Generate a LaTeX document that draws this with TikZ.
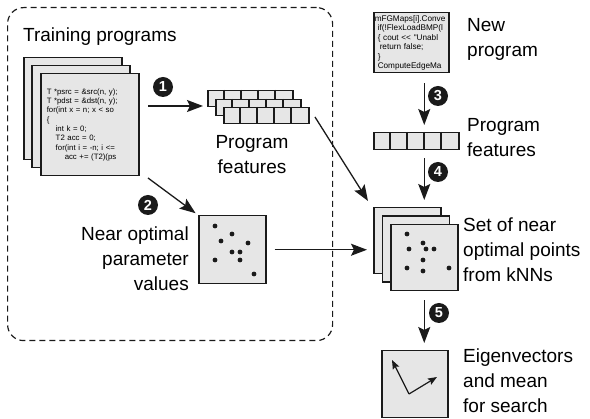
\documentclass[tikz,border=0pt]{standalone}
\usepackage{fontspec}
\setmainfont{Liberation Sans}
\newfontfamily\codefont{Liberation Sans}[Ligatures=TeXOff]
\usetikzlibrary{arrows.meta}
\definecolor{ink}{HTML}{1A1A1A}
\definecolor{paper}{HTML}{E6E6E6}

\begin{document}
\begin{tikzpicture}[x=1pt,y=-1pt,
  sheet/.style={draw=ink, fill=paper, line width=1.5pt, inner sep=0pt, anchor=north west},
  codesheet/.style={sheet, minimum width=98pt, minimum height=102pt},
  setsheet/.style={sheet, minimum width=67pt, minimum height=66pt},
  featrow/.style={sheet, minimum width=85pt, minimum height=16pt},
  divider/.style={draw=ink, line width=1.5pt},
  lbl/.style={inner sep=0pt, font=\fontsize{19}{25}\selectfont},
  badge/.style={circle, fill=ink, text=white, inner sep=0pt, minimum size=20pt,
    font=\bfseries\fontsize{14.5}{14.5}\selectfont},
  arr/.style={draw=ink, line width=1.3pt, -{Stealth[length=16pt,width=12pt,inset=3pt]}},
  smallarr/.style={draw=ink, line width=1.2pt, -{Stealth[length=9pt,width=7pt,inset=1.5pt]}},
  dot/.style={fill=ink},
  frame/.style={draw=ink, line width=1.2pt, dash pattern=on 6pt off 4pt,
    rounded corners=16pt, inner sep=0pt, anchor=north west}
]
\useasboundingbox (0,0) rectangle (590,419);

% training group
\node[frame, minimum width=325pt, minimum height=333pt] (group) at (7,7) {};
\node[lbl, anchor=base west] (ttrain) at (23,42) {Training programs};

% stack of training sources
\node[codesheet] (codeA) at (23,57) {};
\node[codesheet] (codeB) at (31,65) {};
\node[codesheet, text width=86pt, inner xsep=6pt, align=left,
  font=\codefont\fontsize{7.8}{9.3}\selectfont] (codeC) at (40,73)
  {T *psrc = \&src(n, y);\\
   T *pdst = \&dst(n, y);\\
   for(int x = n; x < so\\
   \{\\
   \hspace*{9pt}int k = 0;\\
   \hspace*{9pt}T2 acc = 0;\\
   \hspace*{9pt}for(int i = -n; i <=\\
   \hspace*{18pt}acc += (T2)(ps};

% stacked feature vectors
\node[featrow] (fA) at (207,90) {};
\foreach \k in {1,...,4} \draw[divider] ([xshift=\k*17pt]fA.north west) -- ([xshift=\k*17pt]fA.south west);
\node[featrow] (fB) at (215,99) {};
\foreach \k in {1,...,4} \draw[divider] ([xshift=\k*17pt]fB.north west) -- ([xshift=\k*17pt]fB.south west);
\node[featrow] (fC) at (223,107) {};
\foreach \k in {1,...,4} \draw[divider] ([xshift=\k*17pt]fC.north west) -- ([xshift=\k*17pt]fC.south west);
\node[lbl, align=center, anchor=base] (tfeatA) at (252,174) {Program\\features};

% near optimal parameter values
\node[sheet, minimum width=67pt, minimum height=68pt] (opt) at (198,215) {};
\foreach \p in {(215,226),(232,234),(221,241),(248,243),(232,252),(240,252),(215,260),(240,260),(254,274)}
  \fill[dot] \p circle[radius=2.4pt];
\node[lbl, align=right, anchor=base east] (topt) at (189,291) {Near optimal\\parameter\\values};

% new program
\node[sheet, minimum width=75pt, minimum height=60pt, text width=73pt, inner xsep=1pt,
  align=left, font=\codefont\fontsize{8.2}{9.5}\selectfont] (newp) at (373,12)
  {mFGMaps[i].Conve\\
   \hspace*{3pt}if(!FlexLoadBMP(l\\
   \hspace*{3pt}\{ cout << "Unabl\\
   \hspace*{5pt}return false;\\
   \hspace*{3pt}\}\\
   \hspace*{3pt}ComputeEdgeMa};
\node[lbl, align=left, anchor=base west] (tnew) at (467,57) {New\\program};

% features of the new program
\node[featrow, minimum height=17pt] (feat) at (373,132) {};
\foreach \k in {1,...,4} \draw[divider] ([xshift=\k*17pt]feat.north west) -- ([xshift=\k*17pt]feat.south west);
\node[lbl, align=left, anchor=base west] (tfeatB) at (467,157) {Program\\features};

% nearest neighbour point sets
\node[setsheet] (setA) at (373,207) {};
\node[setsheet] (setB) at (381.5,215.5) {};
\node[setsheet] (setC) at (390,224) {};
\foreach \p in {(407,234),(423,243),(409,249),(426,249),(434,249),(423,260),(407,268),(423,271),(449,268)}
  \fill[dot] \p circle[radius=2.4pt];
\node[lbl, align=left, anchor=base west] (tset) at (463,282) {Set of near\\optimal points\\from kNNs};

% eigenvectors
\node[sheet, minimum width=66pt, minimum height=67pt] (eig) at (381,350) {};
\coordinate (ev0) at (409,394);
\coordinate (ev1) at (392,360);
\coordinate (ev2) at (437,377);
\draw[smallarr] (ev0) -- (ev1);
\draw[smallarr] (ev0) -- (ev2);
\node[lbl, align=left, anchor=base west] (teig) at (463,413) {Eigenvectors\\and mean\\for search};

% connectors
\coordinate (a1s) at (148,106);
\draw[arr, shorten >=4pt] (a1s) -- (a1s -| fA.west);
\node[badge] (b1) at (163,87) {1};

\coordinate (a2s) at (148,178);
\draw[arr, shorten >=3pt] (a2s) -- (opt.north west);
\node[badge] (b2) at (148,205) {2};

\coordinate (d1) at (315,117);
\coordinate (d2) at (368,201);
\draw[arr] (d1) -- (d2);

\draw[arr, shorten <=8pt, shorten >=6pt] (opt.east) -- (opt.east -| setA.west);

\draw[arr, shorten <=10pt, shorten >=7pt] (newp.south -| setC.center) -- (feat.north -| setC.center);
\node[badge] (b3) at (438,96) {3};

\draw[arr, shorten <=8pt, shorten >=7pt] (feat.south -| setC.center) -- (setA.north -| setC.center);
\node[badge] (b4) at (438,172) {4};

\draw[arr, shorten <=9pt, shorten >=7pt] (setC.south) -- (eig.north -| setC.south);
\node[badge] (b5) at (439,313) {5};
\end{tikzpicture}
\end{document}
